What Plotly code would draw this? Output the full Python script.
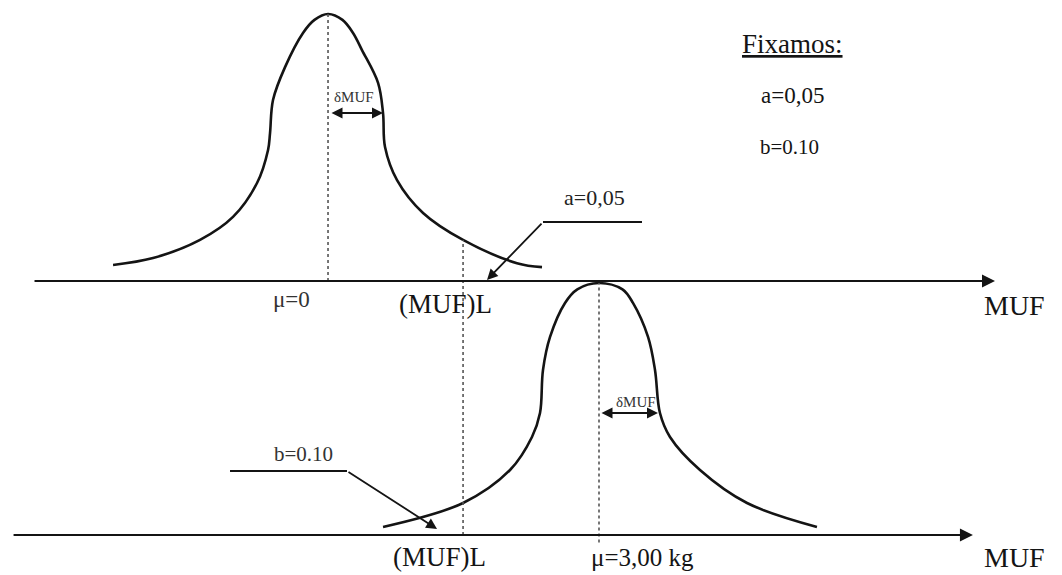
import plotly.graph_objects as go

# ---- data (x in MUF units, y in relative density: 0 = axis, 1 = peak) ----
mu_h0 = 0.0          # μ = 0
mu_h1 = 3.0          # μ = 3,00 kg
muf_L = 1.495        # (MUF)L threshold

top_curve_x = [-2.380, -1.937, -1.417, -1.052, -0.786, -0.664, -0.642, -0.609, -0.476, -0.277, -0.150, 0.0,
               0.160, 0.277, 0.376, 0.554, 0.609, 0.631, 0.764, 1.052, 1.495, 2.092, 2.369]
top_curve_y = [0.060, 0.086, 0.154, 0.240, 0.367, 0.491, 0.554, 0.678, 0.801, 0.929, 0.978, 1.0,
               0.978, 0.929, 0.865, 0.742, 0.629, 0.502, 0.378, 0.255, 0.154, 0.067, 0.052]

bot_curve_x = [0.609, 1.495, 2.015, 2.258, 2.347, 2.380, 2.458, 2.624, 2.760, 3.0,
               3.260, 3.376, 3.543, 3.620, 3.675, 3.786, 4.118, 4.639, 5.413]
bot_curve_y = [0.032, 0.127, 0.258, 0.389, 0.484, 0.655, 0.786, 0.921, 0.975, 1.0,
               0.975, 0.921, 0.786, 0.655, 0.484, 0.389, 0.258, 0.127, 0.032]

top_axis_x = [-3.266, 7.384]
bot_axis_x = [-3.498, 7.140]

delta_top = [0.022, 0.609]     # δMUF arrow (top)
delta_top_y = 0.629
delta_bot = [3.011, 3.653]     # δMUF arrow (bottom)
delta_bot_y = 0.484

a_callout_x = [3.476, 2.380, 1.760]
a_callout_y = [0.221, 0.221, 0.004]
b_callout_x = [-1.085, 0.210, 1.207]
b_callout_y = [0.254, 0.254, 0.024]

alpha_txt = "a=0,05"
beta_txt = "b=0.10"

INK = "#141414"
SERIF = "Liberation Serif, Times New Roman, serif"

fig = go.Figure()

# curves
fig.add_trace(go.Scatter(x=top_curve_x, y=top_curve_y, mode="lines", yaxis="y",
                         line=dict(color=INK, width=2.6, shape="spline", smoothing=1.0),
                         hoverinfo="skip", showlegend=False))
fig.add_trace(go.Scatter(x=bot_curve_x, y=bot_curve_y, mode="lines", yaxis="y2",
                         line=dict(color=INK, width=2.6, shape="spline", smoothing=1.0),
                         hoverinfo="skip", showlegend=False))

# dotted guide lines
dot = dict(color="#555555", width=1.6, dash="dot")
fig.add_trace(go.Scatter(x=[mu_h0, mu_h0], y=[0, 1.0], mode="lines", yaxis="y",
                         line=dot, hoverinfo="skip", showlegend=False))
fig.add_trace(go.Scatter(x=[mu_h1, mu_h1], y=[-0.03, 1.0], mode="lines", yaxis="y2",
                         line=dot, hoverinfo="skip", showlegend=False))
fig.add_trace(go.Scatter(x=[muf_L, muf_L], y=[0, 1.171], mode="lines", yaxis="y2",
                         line=dot, hoverinfo="skip", showlegend=False))

# callout horizontal segments
fig.add_trace(go.Scatter(x=a_callout_x[:2], y=a_callout_y[:2], mode="lines", yaxis="y",
                         line=dict(color=INK, width=2), hoverinfo="skip", showlegend=False))
fig.add_trace(go.Scatter(x=b_callout_x[:2], y=b_callout_y[:2], mode="lines", yaxis="y2",
                         line=dict(color=INK, width=2), hoverinfo="skip", showlegend=False))

ann = []
# axis arrows
ann.append(dict(x=top_axis_x[1], y=0, ax=top_axis_x[0], ay=0, xref="x", yref="y", axref="x", ayref="y",
                showarrow=True, arrowhead=2, arrowsize=1.3, arrowwidth=2, arrowcolor=INK, text=""))
ann.append(dict(x=bot_axis_x[1], y=0, ax=bot_axis_x[0], ay=0, xref="x", yref="y2", axref="x", ayref="y2",
                showarrow=True, arrowhead=2, arrowsize=1.3, arrowwidth=2, arrowcolor=INK, text=""))
# callout diagonals
ann.append(dict(x=a_callout_x[2], y=a_callout_y[2], ax=a_callout_x[1], ay=a_callout_y[1],
                xref="x", yref="y", axref="x", ayref="y",
                showarrow=True, arrowhead=2, arrowsize=1.2, arrowwidth=1.8, arrowcolor=INK, text=""))
ann.append(dict(x=b_callout_x[2], y=b_callout_y[2], ax=b_callout_x[1], ay=b_callout_y[1],
                xref="x", yref="y2", axref="x", ayref="y2",
                showarrow=True, arrowhead=2, arrowsize=1.2, arrowwidth=1.8, arrowcolor=INK, text=""))
# δMUF double arrows
ann.append(dict(x=delta_top[1], y=delta_top_y, ax=delta_top[0], ay=delta_top_y,
                xref="x", yref="y", axref="x", ayref="y", arrowside="end+start",
                showarrow=True, arrowhead=2, arrowsize=1.1, arrowwidth=2, arrowcolor=INK, text=""))
ann.append(dict(x=delta_bot[1], y=delta_bot_y, ax=delta_bot[0], ay=delta_bot_y,
                xref="x", yref="y2", axref="x", ayref="y2", arrowside="end+start",
                showarrow=True, arrowhead=2, arrowsize=1.1, arrowwidth=2, arrowcolor=INK, text=""))


def label(text, x, y, yref, size, color=INK):
    return dict(text=text, x=x, y=y, xref="x", yref=yref, showarrow=False,
                xanchor="center", yanchor="middle",
                font=dict(family=SERIF, size=size, color=color))


ann += [
    label("MUF", 7.605, -0.090, "y", 28),
    label("MUF", 7.605, -0.091, "y2", 28),
    label("μ=0", -0.399, -0.071, "y", 23, "#333333"),
    label("(MUF)L", 1.306, -0.086, "y", 27),
    label("(MUF)L", 1.229, -0.087, "y2", 27),
    label("μ=3,00 kg", 3.487, -0.091, "y2", 25),
    label("<u>Fixamos:</u>", 5.137, 0.888, "y", 27),
    label(alpha_txt, 5.137, 0.693, "y", 23),
    label(beta_txt, 5.104, 0.502, "y", 21),
    label(alpha_txt, 2.945, 0.311, "y", 22, "#222222"),
    label(beta_txt, -0.277, 0.321, "y2", 21, "#333333"),
    label("δMUF", 0.288, 0.689, "y", 15, "#333333"),
    label("δMUF", 3.410, 0.528, "y2", 15, "#333333"),
]

# The page places the figure 8 px from the top-left corner, so the figure is
# 8 px smaller and its ranges start 8 px further in.
fig.update_layout(
    width=1054, height=567,
    margin=dict(l=0, r=0, t=0, b=0),
    paper_bgcolor="white", plot_bgcolor="white",
    xaxis=dict(range=[-3.543, 8.126], visible=False, fixedrange=True),
    yaxis=dict(range=[-1.101, 1.0225], domain=[0, 1], visible=False, fixedrange=True),
    yaxis2=dict(range=[-0.1587, 2.0913], domain=[0, 1], overlaying="y", visible=False, fixedrange=True),
    annotations=ann,
    showlegend=False,
)

fig.write_html("out.html")
